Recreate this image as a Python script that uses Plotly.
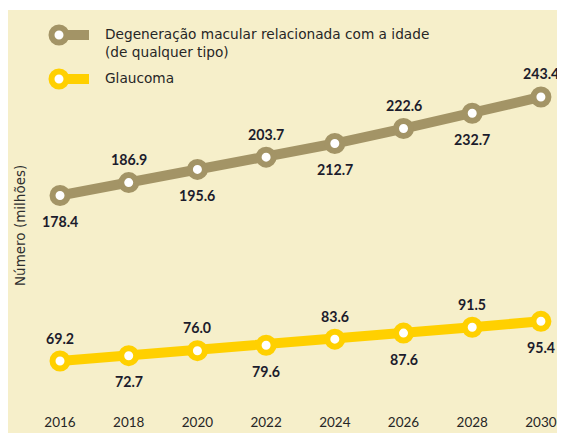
import plotly.graph_objects as go

years = [2016, 2018, 2020, 2022, 2024, 2026, 2028, 2030]
dmri = [178.4, 186.9, 195.6, 203.7, 212.7, 222.6, 232.7, 243.4]
glaucoma = [69.2, 72.7, 76.0, 79.6, 83.6, 87.6, 91.5, 95.4]
dmri_pos = ["below", "above", "below", "above", "below", "above", "below", "above"]
glau_pos = ["above", "below", "above", "below", "above", "below", "above", "below"]
series_names = ["Degeneração macular relacionada com a idade<br>(de qualquer tipo)", "Glaucoma"]
y_title = "Número (milhões)"

BROWN = "#A39466"
YELLOW = "#FFD000"
BEIGE = "#F6EFCA"
TXT = "#1C1C2C"
FONT = "Lato"
WIDE = "DejaVu Sans"

# page is rendered with an 8px body margin; figure sized to end at the window edge
OFF = 8
PAGE_W, PAGE_H = 565, 433
W, H = PAGE_W - OFF, PAGE_H - OFF
# plot area in page pixels
PL, PR, PT, PB = 45, 555, 10, 395
L, R, T, B = PL - OFF, W - (PR - OFF), PT - OFF, H - (PB - OFF)
PW, PH = PR - PL, PB - PT

def px(x):
    return (x - PL) / PW

def py(y):
    return 1 - (y - PT) / PH

fig = go.Figure()
for vals, col in [(dmri, BROWN), (glaucoma, YELLOW)]:
    fig.add_trace(go.Scatter(
        x=years, y=vals, mode="lines+markers",
        line=dict(color=col, width=10),
        marker=dict(size=15, color="white", line=dict(color=col, width=6)),
        showlegend=False, hoverinfo="skip"))

ann = []
for vals, pos in [(dmri, dmri_pos), (glaucoma, glau_pos)]:
    for x, v, p in zip(years, vals, pos):
        ann.append(dict(x=x, y=v, xref="x", yref="y", text=f"<b>{v:.1f}</b>",
                        showarrow=False, yshift=23 if p == "above" else -26,
                        font=dict(family=FONT, size=14.2, color=TXT)))

ann.append(dict(x=px(20), y=py(226), xref="paper", yref="paper", text=y_title,
                textangle=-90, showarrow=False, xanchor="center", yanchor="middle",
                font=dict(family=WIDE, size=13.5, color="#2E2E2E")))

shapes = [dict(type="rect", xref="paper", yref="paper", x0=px(8), x1=px(566),
               y0=py(434), y1=py(10), fillcolor=BEIGE, line=dict(width=0), layer="below")]

# legend icons
for (cy, col, name, ty) in [(35, BROWN, series_names[0], 43.5), (79, YELLOW, series_names[1], 78)]:
    shapes.append(dict(type="line", xref="paper", yref="paper", x0=px(59), x1=px(89),
                       y0=py(cy), y1=py(cy), line=dict(color=col, width=10), layer="above"))
    shapes.append(dict(type="circle", xref="paper", yref="paper", x0=px(51.5), x1=px(66.5),
                       y0=py(cy - 7.5), y1=py(cy + 7.5), fillcolor="white",
                       line=dict(color=col, width=6), layer="above"))
    ann.append(dict(x=px(103), y=py(ty), xref="paper", yref="paper", text=name,
                    xanchor="left", yanchor="middle", align="left", showarrow=False,
                    font=dict(family=WIDE, size=13.7, color="#262626")))

fig.update_layout(
    width=W, height=H, margin=dict(l=L, r=R, t=T, b=B),
    paper_bgcolor="white", plot_bgcolor="rgba(0,0,0,0)",
    xaxis=dict(range=[2015.563, 2030.41], tickvals=years, ticktext=[str(y) for y in years],
               showgrid=False, zeroline=False, showline=False,
               ticks="outside", ticklen=15, tickcolor="rgba(0,0,0,0)",
               tickfont=dict(family=FONT, size=13.5, color="#262626")),
    yaxis=dict(range=[46.77, 300.8], visible=False),
    annotations=ann, shapes=shapes,
)

fig.write_html("out.html")
